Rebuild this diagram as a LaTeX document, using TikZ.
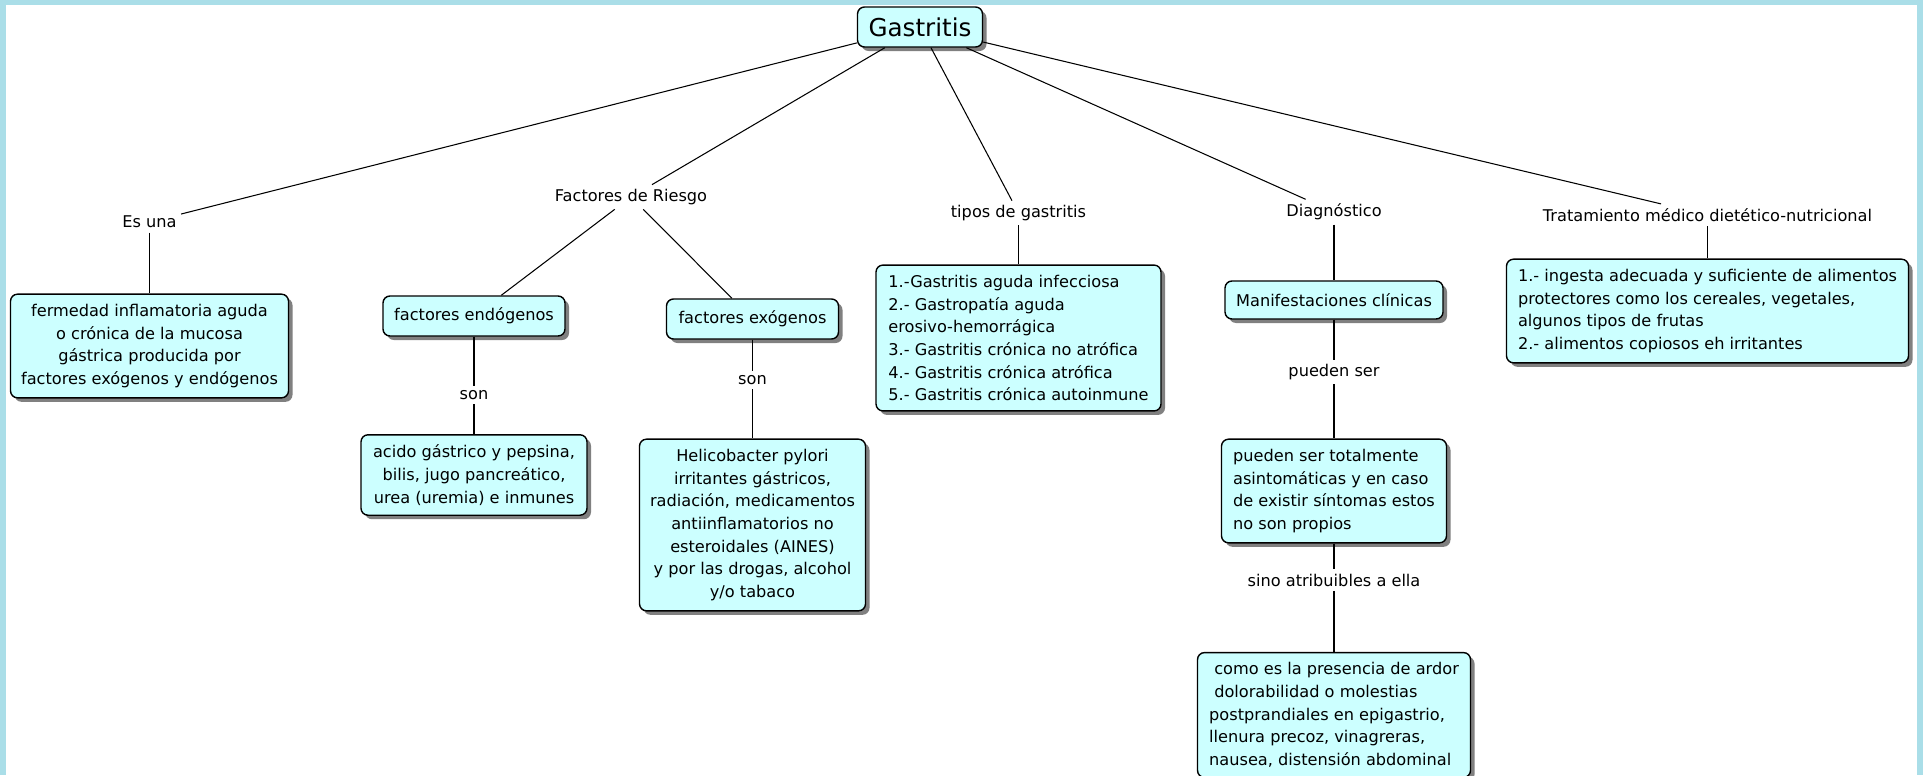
\documentclass[tikz,border=0pt]{standalone}
\usepackage{fontspec}
\setmainfont{DejaVu Sans}
\usepackage{xcolor}
\usepackage{tikz}
\usetikzlibrary{shapes,shadows}
\definecolor{boxfill}{RGB}{204,255,255}
\definecolor{framecol}{RGB}{170,222,232}
\tikzset{cbox/.style={rectangle,draw,fill=boxfill,rounded corners=0.14cm,line width=0.8pt,
    inner sep=0.2cm,font=\fontsize{9.2}{12.9}\selectfont,
    drop shadow={shadow xshift=0.08cm,shadow yshift=-0.08cm,fill=black!55,opacity=0.9}},
  lbl/.style={inner sep=0.08cm,font=\fontsize{9.2}{12.9}\selectfont}}

\begin{document}
\begin{tikzpicture}[line width=0.6pt]
    \useasboundingbox (0,0) rectangle (38.46,-15.5);
    \fill[framecol] (0,0) rectangle (38.46,-15.5);
    \fill[white] (0.12,-0.10) rectangle (38.34,-15.5);

    \node[cbox,font=\fontsize{14}{16}\selectfont,minimum width=2.5cm,minimum height=0.8cm] (gas) at (18.4,-0.54) {Gastritis};

    \node[lbl] (esuna) at (2.99,-4.44) {Es una};
    \node[lbl] (fact) at (12.62,-3.94) {Factores de Riesgo};
    \node[lbl] (tiplab) at (20.37,-4.26) {tipos de gastritis};
    \node[lbl] (diag) at (26.68,-4.24) {Diagnóstico};
    \node[lbl] (tratlab) at (34.15,-4.30) {Tratamiento médico dietético-nutricional};

    \node[cbox,align=center,minimum width=5.56cm,minimum height=1.98cm] (ferm) at (2.99,-6.92)
        {fermedad inflamatoria aguda\\o crónica de la mucosa\\gástrica producida por\\factores exógenos y endógenos};
    \node[cbox,minimum width=3.64cm,minimum height=0.8cm] (endo) at (9.48,-6.32) {factores endógenos};
    \node[cbox,minimum width=3.44cm,minimum height=0.8cm] (exo) at (15.05,-6.38) {factores exógenos};
    \node[lbl] (son1) at (9.48,-7.90) {son};
    \node[lbl] (son2) at (15.05,-7.60) {son};
    \node[cbox,align=center,minimum width=4.52cm,minimum height=1.54cm] (acido) at (9.48,-9.50)
        {acido gástrico y pepsina,\\bilis, jugo pancreático,\\urea (uremia) e inmunes};
    \node[cbox,align=center,minimum width=4.52cm,minimum height=3.12cm] (helico) at (15.05,-10.50)
        {Helicobacter pylori\\irritantes gástricos,\\radiación, medicamentos\\antiinflamatorios no\\esteroidales (AINES)\\y por las drogas, alcohol\\y/o tabaco};
    \node[cbox,align=left,minimum width=5.7cm,minimum height=2.66cm] (tipos) at (20.37,-6.76)
        {1.-Gastritis aguda infecciosa\\2.- Gastropatía aguda\\erosivo-hemorrágica\\3.- Gastritis crónica no atrófica\\4.- Gastritis crónica atrófica\\5.- Gastritis crónica autoinmune};
    \node[cbox,minimum width=4.36cm,minimum height=0.76cm] (manif) at (26.68,-6.0) {Manifestaciones clínicas};
    \node[lbl] (puedenlab) at (26.68,-7.44) {pueden ser};
    \node[cbox,align=left,minimum width=4.5cm,minimum height=1.92cm] (pueden) at (26.68,-9.82)
        {pueden ser totalmente\\asintomáticas y en caso\\de existir síntomas estos\\no son propios};
    \node[lbl] (sino) at (26.68,-11.6) {sino atribuibles a ella};
    \node[cbox,align=left,minimum width=5.46cm,minimum height=2.3cm] (como) at (26.68,-14.3)
        {\ como es la presencia de ardor\\\ dolorabilidad o molestias\\postprandiales en epigastrio,\\llenura precoz, vinagreras,\\nausea, distensión abdominal};
    \node[cbox,align=left,minimum width=8.04cm,minimum height=2.0cm] (trat) at (34.15,-6.22)
        {1.- ingesta adecuada y suficiente de alimentos\\protectores como los cereales, vegetales,\\algunos tipos de frutas\\2.- alimentos copiosos eh irritantes};

    \draw (gas) -- (esuna);
    \draw (gas) -- (fact);
    \draw (gas) -- (tiplab);
    \draw (gas) -- (diag);
    \draw (gas) -- (tratlab);
    \draw (esuna) -- (ferm);
    \draw (fact) -- (endo);
    \draw (fact) -- (exo);
    \draw (endo) -- (son1);
    \draw (son1) -- (acido);
    \draw (exo) -- (son2);
    \draw (son2) -- (helico);
    \draw (tiplab) -- (tipos);
    \draw (diag) -- (manif);
    \draw (manif) -- (puedenlab);
    \draw (puedenlab) -- (pueden);
    \draw (pueden) -- (sino);
    \draw (sino) -- (como);
    \draw (tratlab) -- (trat);
\end{tikzpicture}
\end{document}
